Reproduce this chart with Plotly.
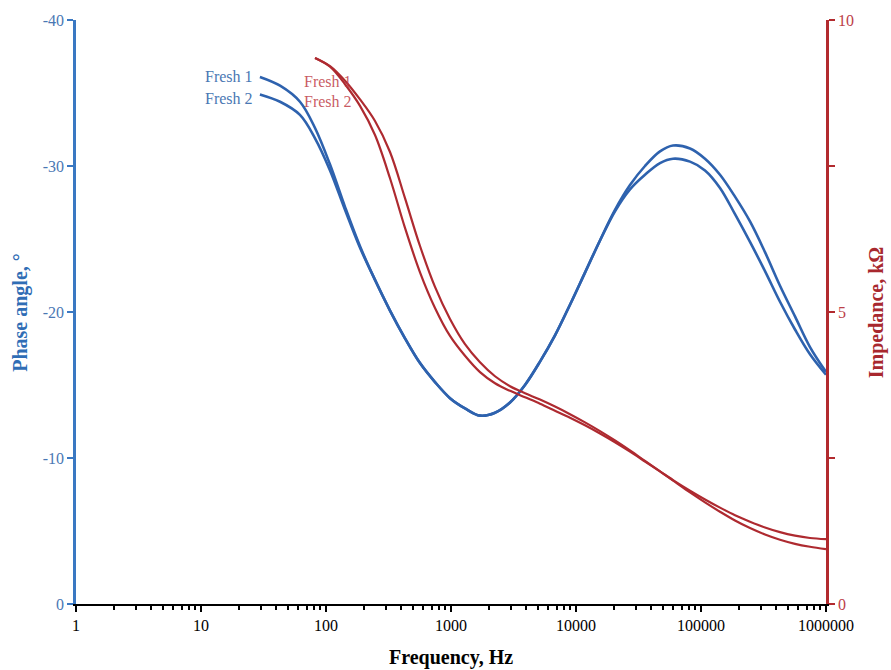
import plotly.graph_objects as go

# ---------------- data ----------------
phase_freq = [29.6, 42.9, 61.9, 81.7, 107.7, 141.9, 187.1, 246.6, 325.1, 428.5, 564.9,
              744.7, 981.7, 1294, 1706, 2249, 2965, 3908, 5152, 6792, 8954, 11803,
              15560, 20512, 27040, 35645, 46989, 59704, 81658, 107647, 141906, 187068,
              246604, 325087, 428549, 564937, 744732, 1000000]
phase_fresh_1 = [-36.1, -35.5, -34.4, -32.6, -30.1, -27.2, -24.5, -22.2, -20.1, -18.2,
                 -16.5, -15.2, -14.1, -13.4, -12.9, -13.1, -13.8, -15.0, -16.6, -18.4,
                 -20.5, -22.7, -24.9, -27.0, -28.7, -30.0, -31.0, -31.4, -31.2, -30.5,
                 -29.4, -27.9, -26.2, -24.1, -21.8, -19.7, -17.6, -15.9]
phase_fresh_2 = [-34.9, -34.4, -33.5, -31.9, -29.7, -27.0, -24.4, -22.2, -20.1, -18.2,
                 -16.5, -15.2, -14.1, -13.4, -12.9, -13.1, -13.8, -15.0, -16.6, -18.4,
                 -20.5, -22.7, -24.9, -26.9, -28.4, -29.4, -30.2, -30.5, -30.3, -29.7,
                 -28.5, -26.7, -24.8, -22.8, -20.7, -18.8, -17.1, -15.7]

imp_freq = [81.7, 107.7, 141.9, 187.1, 246.6, 325.1, 428.5, 564.9, 744.7, 981.7, 1294,
            1706, 2249, 2965, 3908, 5152, 6792, 8954, 11803, 15560, 20512, 27040, 35645,
            46989, 61944, 81658, 107647, 141906, 187068, 246604, 325087, 428549, 564937,
            744732, 1000000]
imp_fresh_1 = [9.35, 9.20, 8.90, 8.53, 8.03, 7.29, 6.44, 5.68, 5.07, 4.59, 4.25, 3.97,
               3.78, 3.65, 3.54, 3.43, 3.31, 3.19, 3.06, 2.92, 2.77, 2.61, 2.44, 2.27,
               2.10, 1.94, 1.79, 1.65, 1.52, 1.41, 1.31, 1.23, 1.17, 1.13, 1.11]
imp_fresh_2 = [9.35, 9.21, 8.96, 8.64, 8.27, 7.74, 6.95, 6.13, 5.43, 4.88, 4.45, 4.14,
               3.90, 3.73, 3.61, 3.50, 3.38, 3.25, 3.11, 2.96, 2.80, 2.63, 2.45, 2.27,
               2.09, 1.91, 1.74, 1.58, 1.43, 1.30, 1.19, 1.10, 1.03, 0.98, 0.94]

x_tick_vals = [1, 10, 100, 1000, 10000, 100000, 1000000]
x_tick_text = ["1", "10", "100", "1000", "10000", "100000", "1000000"]
phase_ticks = [0, -10, -20, -30, -40]
phase_tick_text = ["0", "-10", "-20", "-30", "-40"]
imp_ticks = [0, 2.5, 5, 7.5, 10]
imp_tick_text = ["0", "", "5", "", "10"]

# ---------------- styling ----------------
BLUE = "#2E62AE"
BLUE_AXIS = "#3A78C2"
BLUE_TEXT = "#4A78B4"
RED = "#AE2A30"
RED_AXIS = "#B22A2E"
RED_TEXT = "#BC4048"
SERIF = "Liberation Serif"

minor_vals = [m * 10 ** d for d in range(0, 6) for m in range(2, 10)]

fig = go.Figure()
for vals in (phase_fresh_1, phase_fresh_2):
    fig.add_trace(go.Scatter(x=phase_freq, y=vals, mode="lines",
                             line=dict(color=BLUE, width=2.6, shape="spline", smoothing=1.0),
                             yaxis="y"))
for vals in (imp_fresh_1, imp_fresh_2):
    fig.add_trace(go.Scatter(x=imp_freq, y=vals, mode="lines",
                             line=dict(color=RED, width=2.2, shape="spline", smoothing=1.0),
                             yaxis="y2"))

fig.update_layout(
    width=891, height=670,
    margin=dict(l=76, r=65, t=20, b=66),
    paper_bgcolor="white", plot_bgcolor="white",
    showlegend=False,
    font=dict(family=SERIF, size=16),
    xaxis=dict(type="log", range=[0, 6], tickvals=x_tick_vals, ticktext=x_tick_text,
               ticks="outside", ticklen=6, tickwidth=2, tickcolor="black",
               showline=True, linecolor="black", linewidth=2,
               showgrid=False, zeroline=False,
               tickfont=dict(family=SERIF, size=16, color="black"),
               minor=dict(tickvals=minor_vals, ticks="outside", ticklen=4,
                          tickwidth=1.5, tickcolor="black", showgrid=False)),
    yaxis=dict(range=[0, -40], tickvals=phase_ticks, ticktext=phase_tick_text,
               ticks="outside", ticklen=6,
               tickwidth=2, tickcolor=BLUE_AXIS, showline=True, linecolor=BLUE_AXIS,
               linewidth=2.5, showgrid=False, zeroline=False,
               tickfont=dict(family=SERIF, size=16, color=BLUE_TEXT)),
    yaxis2=dict(range=[0, 10], overlaying="y", side="right", anchor="x",
                tickvals=imp_ticks, ticktext=imp_tick_text, ticks="outside", ticklen=6,
                tickwidth=2, tickcolor=RED_AXIS, showline=True, linecolor=RED_AXIS,
                linewidth=2.5, showgrid=False, zeroline=False,
                tickfont=dict(family=SERIF, size=16, color=RED_TEXT)),
)

annotations = [
    dict(text="Fresh 1", x=1.435, y=-36.1, xref="x", yref="y", xanchor="right",
         yanchor="middle", showarrow=False, font=dict(family=SERIF, size=16, color=BLUE_TEXT)),
    dict(text="Fresh 2", x=1.435, y=-34.65, xref="x", yref="y", xanchor="right",
         yanchor="middle", showarrow=False, font=dict(family=SERIF, size=16, color=BLUE_TEXT)),
    dict(text="Fresh 1", x=1.81, y=8.94, xref="x", yref="y2", xanchor="left",
         yanchor="middle", showarrow=False,
         font=dict(family=SERIF, size=16, color="rgba(190,60,70,0.85)")),
    dict(text="Fresh 2", x=1.81, y=8.61, xref="x", yref="y2", xanchor="left",
         yanchor="middle", showarrow=False,
         font=dict(family=SERIF, size=16, color="rgba(190,60,70,0.85)")),
    dict(text="<b>Phase angle, °</b>", x=-0.075, y=0.5, xref="paper", yref="paper",
         textangle=-90, showarrow=False, xanchor="center", yanchor="middle",
         font=dict(family=SERIF, size=20, color="#2F6DB5")),
    dict(text="<b>Impedance, kΩ</b>", x=1.067, y=0.5, xref="paper", yref="paper",
         textangle=-90, showarrow=False, xanchor="center", yanchor="middle",
         font=dict(family=SERIF, size=20, color="#A8282E")),
    dict(text="<b>Frequency, Hz</b>", x=0.5, y=-0.091, xref="paper", yref="paper",
         showarrow=False, xanchor="center", yanchor="middle",
         font=dict(family=SERIF, size=20, color="black")),
]
fig.update_layout(annotations=annotations)

fig.write_html("out.html")
